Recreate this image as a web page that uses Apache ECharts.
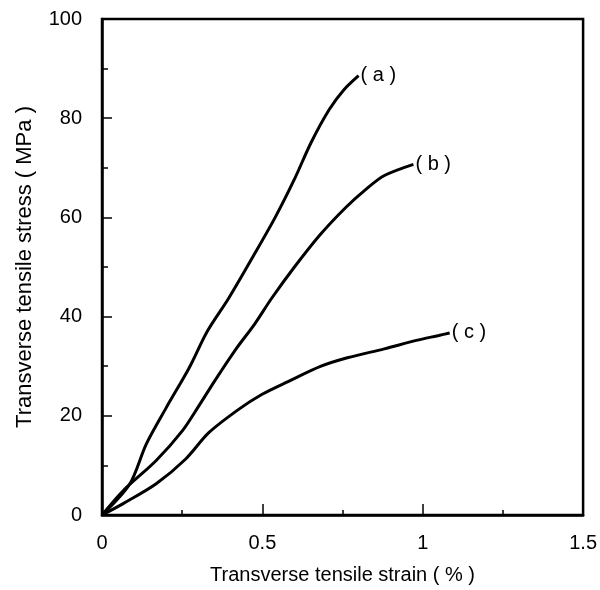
<!DOCTYPE html>
<html>
<head>
<meta charset="utf-8">
<script src="https://cdn.jsdelivr.net/npm/echarts@6/dist/echarts.min.js"></script>
<style>
  html, body { margin: 0; padding: 0; background: #fff; }
  #chart { width: 600px; height: 590px; }
</style>
</head>
<body>
<div id="chart"></div>
<script>
// Stress-strain curves, strain in %, stress in MPa
const strainA = [0, 0.086, 0.138, 0.2, 0.272, 0.328, 0.395, 0.47, 0.54, 0.6, 0.652, 0.709, 0.755, 0.8];
const stressA = [0, 6.2, 14.3, 21.6, 29.7, 37, 43.7, 52, 60, 67.7, 75.1, 81.8, 85.8, 88.6];

const strainB = [0, 0.066, 0.169, 0.251, 0.302, 0.354, 0.416, 0.477, 0.529, 0.6, 0.68, 0.76, 0.82, 0.879, 0.971];
const stressB = [0, 4.9, 11, 17, 22, 27.3, 33.3, 38.6, 43.7, 50, 56.5, 62, 65.5, 68.4, 70.7];

const strainC = [0, 0.066, 0.169, 0.261, 0.333, 0.426, 0.498, 0.58, 0.683, 0.765, 0.88, 0.98, 1.05, 1.084];
const stressC = [0, 2.3, 6.3, 11.3, 16.6, 21.3, 24.3, 26.9, 30, 31.7, 33.5, 35.2, 36.2, 36.7];

const curveNames = ['( a )', '( b )', '( c )'];

const pairs = (xs, ys) => xs.map((x, i) => [x, ys[i]]);

const font = 'Liberation Sans, Arial, Helvetica, sans-serif';
const fontSize = 20;

function curve(name, xs, ys) {
  return {
    type: 'line',
    name: name,
    data: pairs(xs, ys),
    smooth: 0.3,
    showSymbol: false,
    lineStyle: { color: '#000', width: 3 },
    endLabel: {
      show: true,
      formatter: name,
      color: '#000',
      fontFamily: font,
      fontSize: fontSize,
      distance: 2
    },
    animation: false
  };
}

const chart = echarts.init(document.getElementById('chart'));
chart.setOption({
  backgroundColor: '#fff',
  grid: {
    left: 102, right: 12, top: 19, bottom: 72,
    show: true, borderColor: '#000', borderWidth: 2.5, backgroundColor: 'transparent'
  },
  xAxis: {
    type: 'value', min: 0, max: 1.5, interval: 0.5,
    name: 'Transverse tensile strain ( % )',
    nameLocation: 'middle', nameGap: 50,
    nameTextStyle: { color: '#000', fontFamily: font, fontSize: fontSize },
    axisLine: { show: true, lineStyle: { color: '#000', width: 2.5 } },
    axisTick: { show: true, inside: true, length: 11, lineStyle: { color: '#000', width: 1.5 } },
    minorTick: { show: true, splitNumber: 2, length: 5, lineStyle: { color: '#000', width: 1.5 } },
    axisLabel: {
      color: '#000', fontFamily: font, fontSize: fontSize, margin: 18,
      formatter: v => String(v)
    },
    splitLine: { show: false }
  },
  yAxis: {
    type: 'value', min: 0, max: 100, interval: 20,
    name: 'Transverse tensile stress ( MPa )',
    nameLocation: 'middle', nameGap: 66,
    nameTextStyle: { color: '#000', fontFamily: font, fontSize: 22 },
    axisLine: { show: true, lineStyle: { color: '#000', width: 2.5 } },
    axisTick: { show: true, inside: true, length: 10, lineStyle: { color: '#000', width: 1.5 } },
    minorTick: { show: true, splitNumber: 2, length: 6, lineStyle: { color: '#000', width: 1.5 } },
    axisLabel: { color: '#000', fontFamily: font, fontSize: fontSize, margin: 20 },
    splitLine: { show: false }
  },
  series: [
    curve(curveNames[0], strainA, stressA),
    curve(curveNames[1], strainB, stressB),
    curve(curveNames[2], strainC, stressC)
  ]
});
</script>
</body>
</html>
